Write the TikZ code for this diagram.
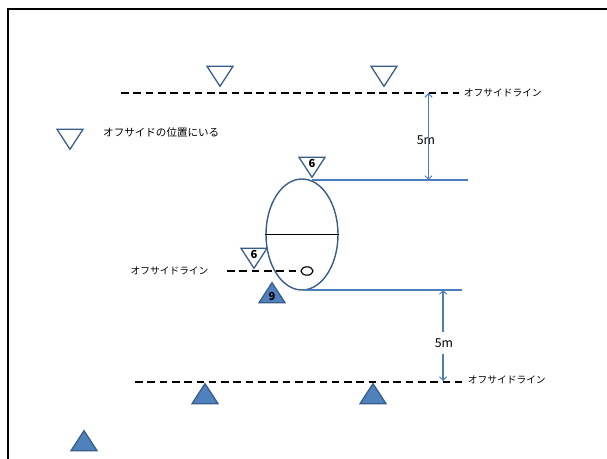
\documentclass[tikz,border=0pt]{standalone}
\usepackage{fontspec}
\setmainfont{Noto Sans CJK JP}
\usepackage{tikz}
\usetikzlibrary{arrows.meta,positioning,shapes.geometric}
\definecolor{triedge}{RGB}{56,93,138}
\definecolor{trifill}{RGB}{79,129,189}
\definecolor{dimblue}{RGB}{74,126,187}

\begin{document}
\begin{tikzpicture}[x=0.03cm,y=-0.03cm,>={Straight Barb[length=3pt,width=6pt]},
  every node/.style={inner sep=0pt},
  offline/.style={dash pattern=on 6.5pt off 4pt,line width=1.2pt},
  defender/.style={isosceles triangle,isosceles triangle stretches,shape border rotate=270,
    draw=triedge,line width=1.1pt,minimum width=0.78cm,minimum height=0.6cm,
    font=\bfseries\fontsize{9.5}{10}\selectfont},
  attacker/.style={defender,shape border rotate=90,fill=trifill},
  dimline/.style={dimblue,line width=0.9pt},
  tag/.style={font=\fontsize{8.3}{10}\selectfont},
  dimtag/.style={font=\fontsize{10.5}{12}\selectfont,inner ysep=5pt,inner xsep=2pt}]
  \useasboundingbox (0,0) rectangle (607,459);
  \draw[line width=2pt] (8,459) -- (8,9) -- (607,9);

  % offside lines
  \coordinate (topL) at (121,93);
  \coordinate (topR) at (459,93);
  \coordinate (botL) at (135,382);
  \coordinate (botR) at (463,382);
  \draw[offline] (topL) -- (topR);
  \draw[offline] (botL) -- (botR);
  \node[tag,right=4pt of topR] (toptag) {オフサイドライン};
  \node[tag,right=4pt of botR,yshift=2pt] (bottag) {オフサイドライン};

  % players
  \node[defender,anchor=apex] (d1) at (220,88) {};
  \node[defender,anchor=apex] (d2) at (384,88) {};
  \node[attacker,anchor=apex] (a1) at (205,382) {};
  \node[attacker,anchor=apex] (a2) at (373,382) {};

  % legend
  \node[defender,anchor=apex] (legdef) at (70,151) {};
  \node[tag,font=\fontsize{9}{10}\selectfont,anchor=west] (legtext) at (103,133) {オフサイドの位置にいる};
  \node[attacker,anchor=apex] (legatt) at (84,429) {};

  % ruck
  \node[ellipse,draw=triedge,line width=1.2pt,minimum width=2.16cm,minimum height=3.33cm] (ruck) at (302,234.5) {};
  \draw[line width=0.6pt] (ruck.west) -- (ruck.east);
  \node[defender,anchor=apex] (six1) at (312,179) {6};
  \node[defender,anchor=apex] (six2) at (254,270) {6};
  \node[attacker,anchor=apex] (nine) at (272,281) {9};
  \node[ellipse,draw,line width=1pt,minimum width=0.36cm,minimum height=0.25cm] (ball) at (307,271) {};
  \coordinate (ruckL) at (227,271);
  \draw[offline] (ruckL) -- (ball.west);
  \node[tag,left=0.55cm of ruckL] (rucktag) {オフサイドライン};

  % 5m distances
  \coordinate (ruckTop) at (312,180);
  \coordinate (ruckTopR) at (468,180);
  \coordinate (ruckBot) at (305,290);
  \coordinate (ruckBotR) at (462,290);
  \draw[dimline] (ruckTop) -- (ruckTopR);
  \draw[dimline] (ruckBot) -- (ruckBotR);
  \coordinate (up1) at (428.5,93);
  \coordinate (up2) at (428.5,180);
  \coordinate (lo1) at (443,290);
  \coordinate (lo2) at (443,381);
  \node[dimtag] (gapup) at (426,140) {5m};
  \node[dimtag] (gaplo) at (444,343) {5m};
  \draw[dimline,->] (gapup.south -| up1) -- (up1);
  \draw[dimline,->] (gapup.north -| up1) -- (up2);
  \draw[dimline,->] (gaplo.north -| lo1) -- (lo1);
  \draw[dimline,->] (gaplo.south -| lo1) -- (lo2);
\end{tikzpicture}
\end{document}
